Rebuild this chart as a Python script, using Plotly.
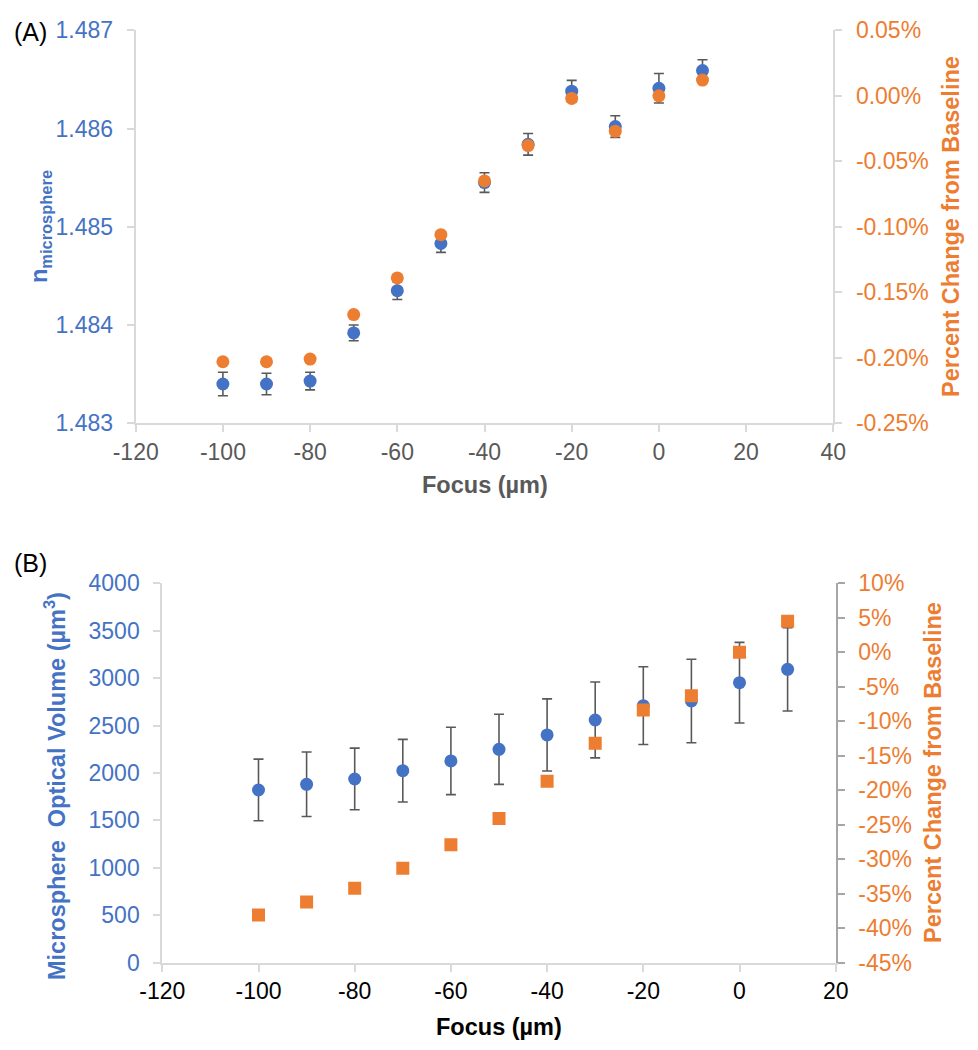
import plotly.graph_objects as go

# page body has an 8px margin, so the figure is kept 16px smaller than the window
OFF = 8
W, H = 978 - 2 * OFF, 1050 - 2 * OFF
BLUE = '#4472C4'
ORANGE = '#ED7D31'
FONT = 'Liberation Sans, Arial, sans-serif'

# focus positions (um)
focus = [-100, -90, -80, -70, -60, -50, -40, -30, -20, -10, 0, 10]

# panel A: refractive index of microsphere and percent change
n_micro = [1.48340, 1.48340, 1.48343, 1.48392, 1.48435, 1.48483,
           1.48545, 1.48584, 1.48638, 1.48602, 1.48641, 1.48659]
n_err = [0.00012, 0.00011, 0.00009, 0.00008, 0.00009, 0.00009,
         0.00010, 0.00011, 0.00011, 0.00011, 0.00015, 0.00011]
n_pct = [-0.203, -0.203, -0.201, -0.167, -0.139, -0.106,
         -0.065, -0.038, -0.002, -0.027, 0.000, 0.012]

# panel B: optical volume and percent change
vol = [1821, 1881, 1937, 2024, 2127, 2250, 2401, 2559, 2710, 2759, 2952, 3093]
vol_err = [325, 340, 325, 330, 355, 370, 380, 400, 410, 440, 425, 440]
vol_pct = [-38.1, -36.2, -34.2, -31.3, -27.9, -24.1,
           -18.7, -13.2, -8.35, -6.3, 0.0, 4.5]

# tick values / labels (hyphen minus like the original)
xa_ticks = [-120, -100, -80, -60, -40, -20, 0, 20, 40]
ya_ticks = [1.483, 1.484, 1.485, 1.486, 1.487]
ya_labels = ['1.483', '1.484', '1.485', '1.486', '1.487']
ya2_ticks = [-0.25, -0.20, -0.15, -0.10, -0.05, 0.0, 0.05]
ya2_labels = ['-0.25%', '-0.20%', '-0.15%', '-0.10%', '-0.05%', '0.00%', '0.05%']
xb_ticks = [-120, -100, -80, -60, -40, -20, 0, 20]
yb_ticks = [0, 500, 1000, 1500, 2000, 2500, 3000, 3500, 4000]
yb2_ticks = [-45, -40, -35, -30, -25, -20, -15, -10, -5, 0, 5, 10]

# window pixel -> paper fraction
px = lambda x: (x - OFF) / W
py = lambda y: 1 - (y - OFF) / H

err_style = dict(type='data', color='#595959', thickness=1.6, width=5)

fig = go.Figure()

fig.add_trace(go.Scatter(x=focus, y=n_micro, mode='markers', xaxis='x', yaxis='y',
                         marker=dict(color=BLUE, size=13),
                         error_y=dict(array=n_err, **err_style), showlegend=False))
fig.add_trace(go.Scatter(x=focus, y=n_pct, mode='markers', xaxis='x', yaxis='y2',
                         marker=dict(color=ORANGE, size=13), showlegend=False))
fig.add_trace(go.Scatter(x=focus, y=vol, mode='markers', xaxis='x2', yaxis='y3',
                         marker=dict(color=BLUE, size=13),
                         error_y=dict(array=vol_err, **err_style), showlegend=False))
fig.add_trace(go.Scatter(x=focus, y=vol_pct, mode='markers', xaxis='x2', yaxis='y4',
                         marker=dict(color=ORANGE, size=13, symbol='square'), showlegend=False))

tick_font = lambda c: dict(family=FONT, size=23, color=c)
axis_common = dict(showgrid=False, zeroline=False, showline=True, linewidth=2,
                   ticks='outside', ticklen=7, tickwidth=2, automargin=False,
                   tickmode='array')
shadow_common = dict(showgrid=False, zeroline=False, showline=False, automargin=False,
                     ticks='inside', ticklen=7, tickwidth=2, showticklabels=False,
                     tickmode='array')

def labels(vals, suffix=''):
    return [f'{v:g}' + suffix for v in vals]

dom_x_a = [px(135.7), px(833.3)]
dom_y_a = [py(423.3), py(30.3)]
dom_x_b = [px(162.3), px(835.7)]
dom_y_b = [py(962.7), py(583.3)]

fig.update_layout(
    width=W, height=H, margin=dict(l=0, r=0, t=0, b=0, pad=0, autoexpand=False),
    paper_bgcolor='white', plot_bgcolor='white',
    font=dict(family=FONT),
    # panel A
    xaxis=dict(domain=dom_x_a, anchor='y', range=[-120, 40],
               tickvals=xa_ticks, ticktext=labels(xa_ticks),
               linecolor='#d9d9d9', tickcolor='#d9d9d9', tickfont=tick_font('#595959'),
               ticklabelstandoff=0, **axis_common),
    yaxis=dict(domain=dom_y_a, anchor='x', range=[1.483, 1.487],
               tickvals=ya_ticks, ticktext=ya_labels,
               linecolor='#d9d9d9', tickcolor='#d9d9d9',
               tickfont=tick_font(BLUE), ticklabelstandoff=9, **axis_common),
    yaxis2=dict(overlaying='y', anchor='x', side='right', range=[-0.25, 0.05],
                tickvals=ya2_ticks, ticktext=ya2_labels, linecolor='#d9d9d9',
                tickcolor='#d9d9d9', tickfont=tick_font(ORANGE), ticklabelstandoff=9,
                **axis_common),
    xaxis3=dict(overlaying='x', anchor='y', range=[-120, 40], tickvals=xa_ticks,
                tickcolor='#d9d9d9', **shadow_common),
    yaxis5=dict(overlaying='y', anchor='x', side='left', range=[1.483, 1.487],
                tickvals=ya_ticks, tickcolor='#d9d9d9', **shadow_common),
    yaxis6=dict(overlaying='y', anchor='x', side='right', range=[-0.25, 0.05],
                tickvals=ya2_ticks, tickcolor='#d9d9d9', **shadow_common),
    # panel B
    xaxis2=dict(domain=dom_x_b, anchor='y3', range=[-120, 20],
                tickvals=xb_ticks, ticktext=labels(xb_ticks),
                linecolor='#d9d9d9', tickcolor='#d9d9d9', tickfont=tick_font('#000000'),
                ticklabelstandoff=0, **axis_common),
    yaxis3=dict(domain=dom_y_b, anchor='x2', range=[0, 4000],
                tickvals=yb_ticks, ticktext=labels(yb_ticks),
                linecolor='#d9d9d9', tickcolor='#d9d9d9', tickfont=tick_font(BLUE),
                ticklabelstandoff=9, **axis_common),
    yaxis4=dict(overlaying='y3', anchor='x2', side='right', range=[-45, 10],
                tickvals=yb2_ticks, ticktext=labels(yb2_ticks, '%'),
                linecolor='#a6a6a6', tickcolor='#a6a6a6',
                tickfont=tick_font(ORANGE), ticklabelstandoff=9, **axis_common),
    xaxis4=dict(overlaying='x2', anchor='y3', range=[-120, 20], tickvals=xb_ticks,
                tickcolor='#d9d9d9', **shadow_common),
    yaxis7=dict(overlaying='y3', anchor='x2', side='left', range=[0, 4000],
                tickvals=yb_ticks, tickcolor='#d9d9d9', **shadow_common),
    yaxis8=dict(overlaying='y3', anchor='x2', side='right', range=[-45, 10],
                tickvals=yb2_ticks, tickcolor='#a6a6a6', **shadow_common),
)

title_font = lambda c: dict(family=FONT, size=23.5, color=c)
annots = [
    dict(text='(A)', x=px(12), y=py(32), xanchor='left', yanchor='middle',
         font=dict(family=FONT, size=25, color='#000000')),
    dict(text='(B)', x=px(12), y=py(563), xanchor='left', yanchor='middle',
         font=dict(family=FONT, size=25, color='#000000')),
    dict(text='<b>n<sub>microsphere</sub></b>', x=px(40), y=py(227), textangle=-90,
         xanchor='center', yanchor='middle', font=title_font(BLUE)),
    dict(text='<b>Percent Change from Baseline</b>', x=px(951), y=py(227), textangle=-90,
         xanchor='center', yanchor='middle', font=title_font(ORANGE)),
    dict(text='<b>Focus (µm)</b>', x=px(484.5), y=py(485), xanchor='center',
         yanchor='middle', font=title_font('#595959')),
    dict(text='<b>Microsphere\u00a0 Optical Volume (µm<sup>3</sup>)</b>', x=px(55),
         y=py(786), textangle=-90, xanchor='center', yanchor='middle',
         font=title_font(BLUE)),
    dict(text='<b>Percent Change from Baseline</b>', x=px(933), y=py(773), textangle=-90,
         xanchor='center', yanchor='middle', font=title_font(ORANGE)),
    dict(text='<b>Focus (µm)</b>', x=px(499), y=py(1027), xanchor='center',
         yanchor='middle', font=title_font('#000000')),
]
for a in annots:
    fig.add_annotation(xref='paper', yref='paper', showarrow=False, **a)

fig.write_html('out.html')
